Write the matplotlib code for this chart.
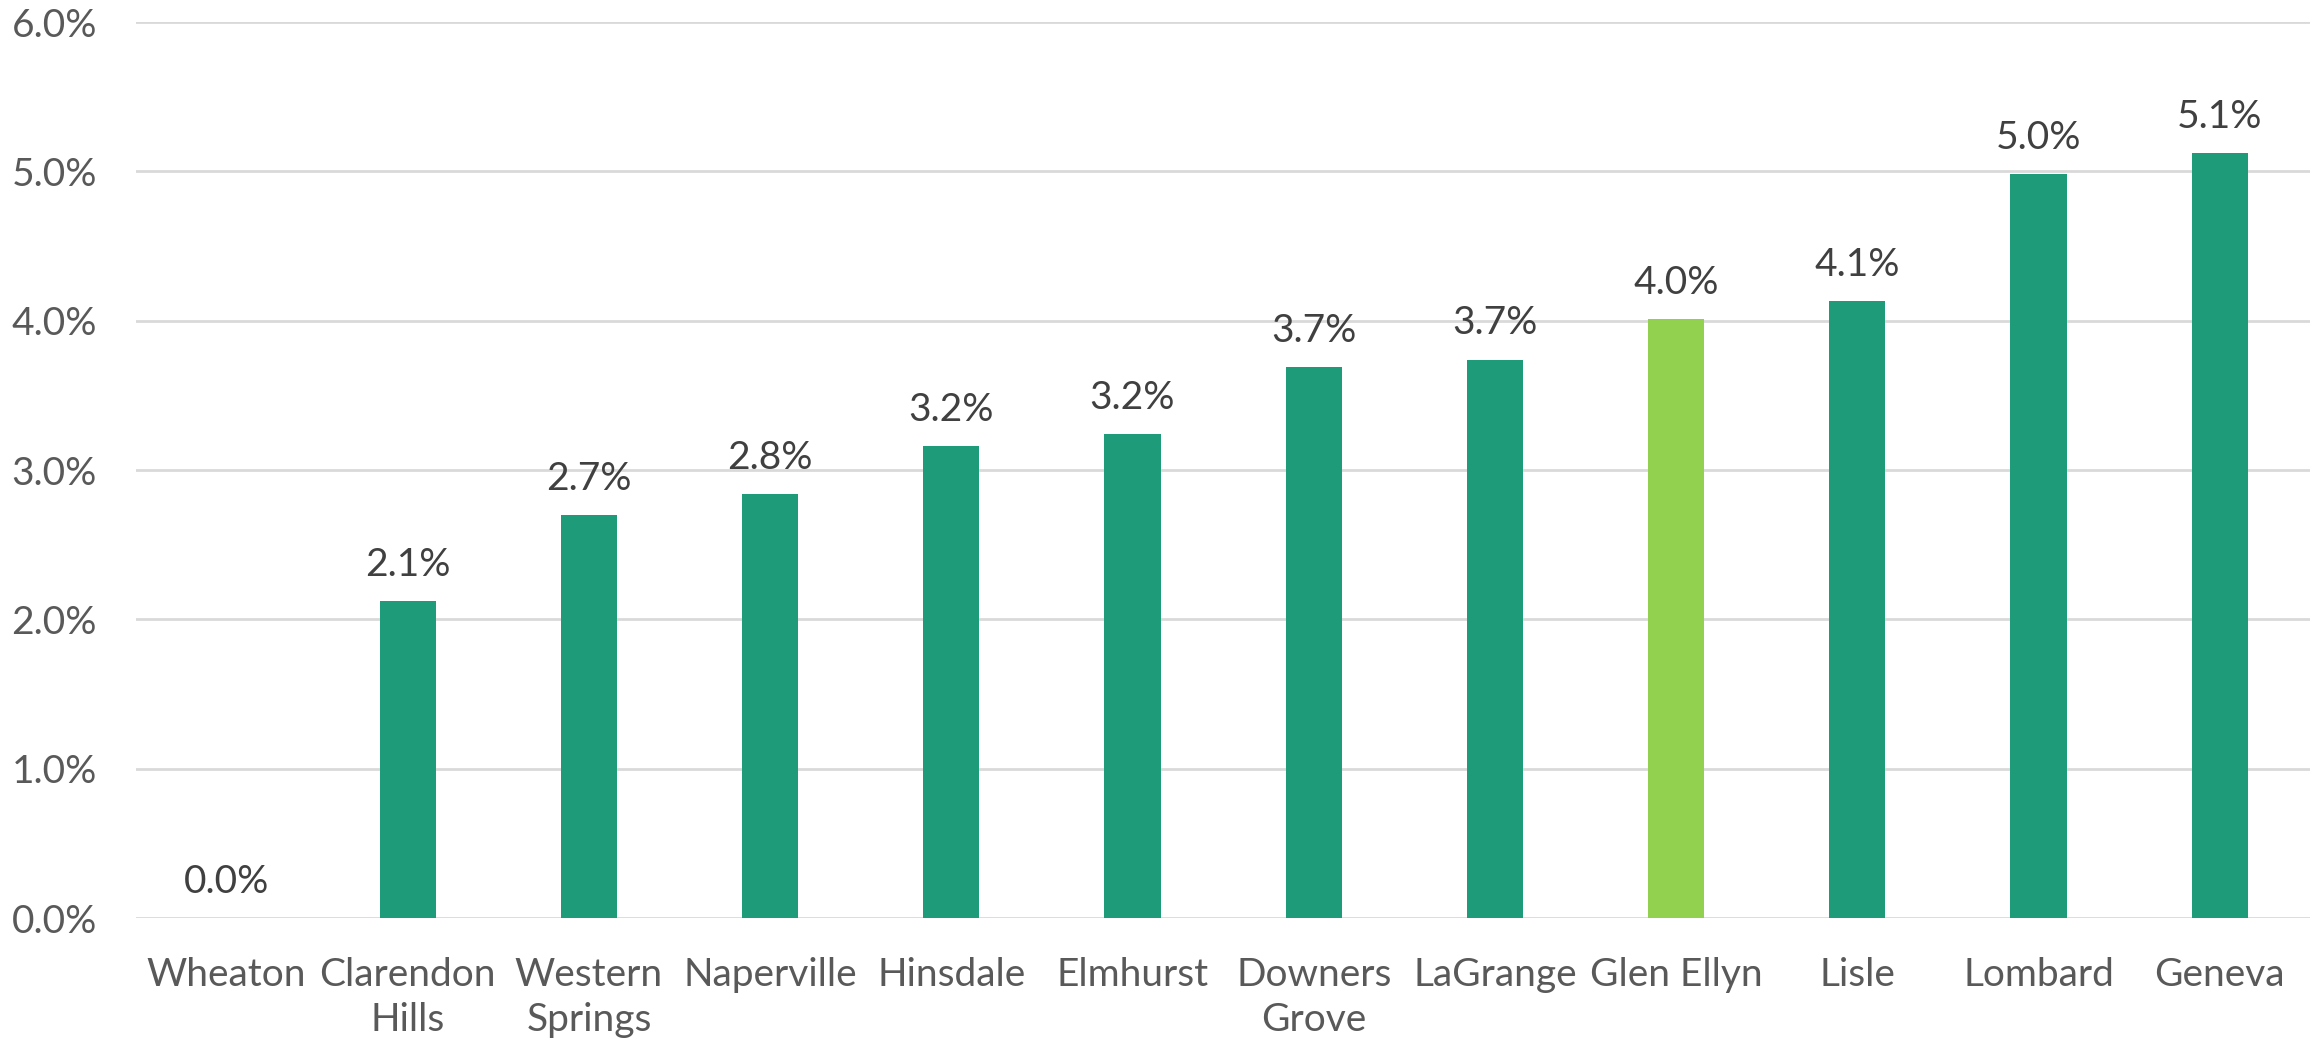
import matplotlib.pyplot as plt
from matplotlib.ticker import FuncFormatter

# data
towns = ["Wheaton", "Clarendon\nHills", "Western\nSprings", "Naperville", "Hinsdale",
         "Elmhurst", "Downers\nGrove", "LaGrange", "Glen Ellyn", "Lisle", "Lombard", "Geneva"]
rates = [0.0, 2.12, 2.70, 2.84, 3.16, 3.24, 3.69, 3.74, 4.01, 4.13, 4.98, 5.12]
highlight = "Glen Ellyn"

dark_green = "#1E9B78"
light_green = "#92D050"
grid_col = "#D9D9D9"

plt.rcParams['font.family'] = ['Lato', 'DejaVu Sans']

fig = plt.figure(figsize=(23.15, 10.5), dpi=100)
ax = fig.add_axes([0.0587, 0.1257, 0.9393, 0.8533])

x = range(len(towns))
colors = [light_green if t == highlight else dark_green for t in towns]
bars = ax.bar(x, rates, width=0.31, color=colors, zorder=3)

for b, v in zip(bars, rates):
    ax.annotate(f"{v:.1f}%", (b.get_x() + b.get_width() / 2, v),
                xytext=(0, 13), textcoords="offset points",
                ha="center", va="bottom", fontsize=28, color="#404040")

ax.set_xlim(-0.5, len(towns) - 0.5)
ax.set_ylim(0, 6)
ax.set_yticks([0, 1, 2, 3, 4, 5, 6])
ax.yaxis.set_major_formatter(FuncFormatter(lambda v, p: f"{v:.1f}%"))
ax.set_xticks(list(x))
ax.set_xticklabels(towns, linespacing=1.3)

ax.grid(axis="y", color=grid_col, linewidth=2, zorder=0)
for s in ax.spines.values():
    s.set_visible(False)
ax.tick_params(axis="both", length=0, labelsize=28, labelcolor="#595959")
ax.tick_params(axis="y", pad=28)
ax.tick_params(axis="x", pad=28)

fig.savefig("out.png", dpi=100, facecolor="white")
